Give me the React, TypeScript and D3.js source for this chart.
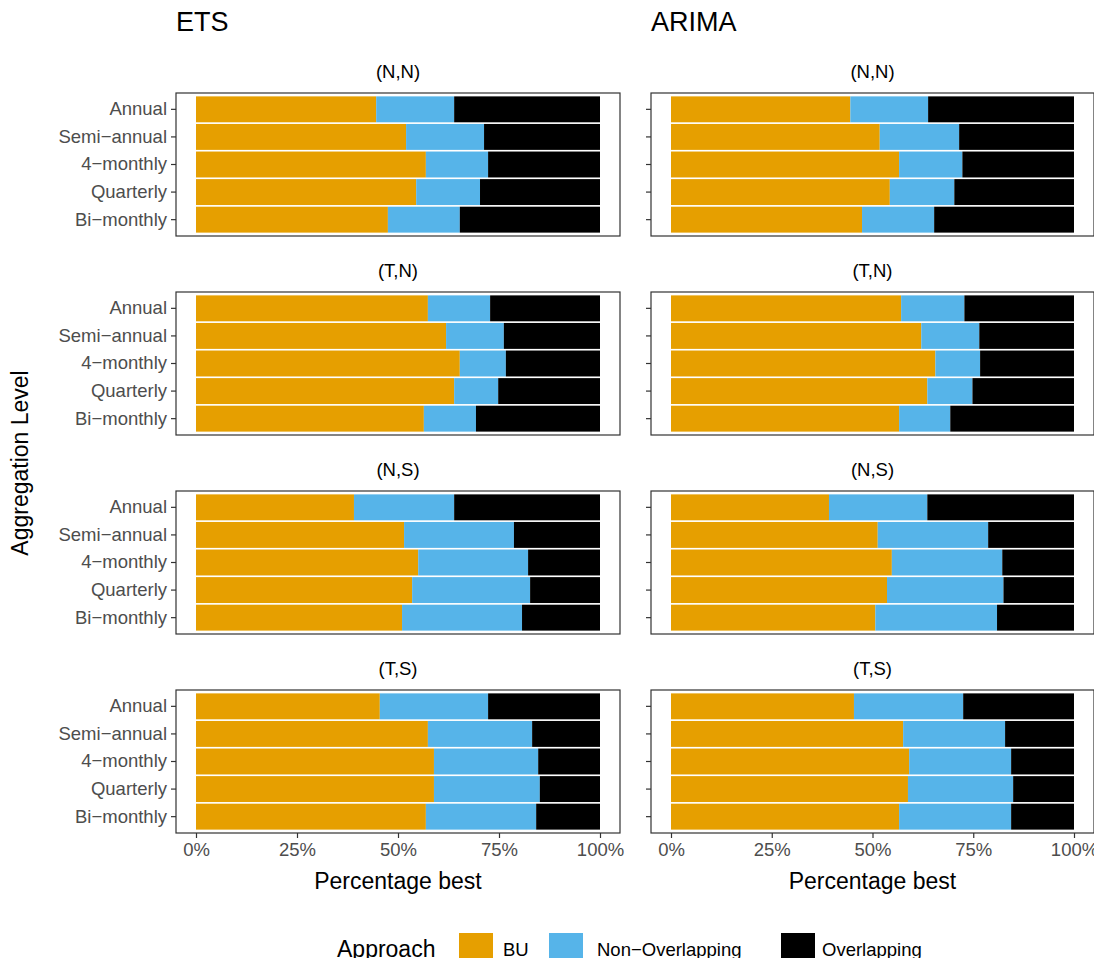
import { useEffect, useRef } from 'react';
import * as d3 from 'd3';

const levels = ['Annual', 'Semi\u2212annual', '4\u2212monthly', 'Quarterly', 'Bi\u2212monthly'];
const facets = ['(N,N)', '(T,N)', '(N,S)', '(T,S)'];
const approaches = ['BU', 'Non\u2212Overlapping', 'Overlapping'];
const colors = ['#E69F00', '#56B4E9', '#000000'];
const xTicks = [0, 0.25, 0.5, 0.75, 1];

// BU share and Non-Overlapping share (%), per facet, per level
const etsBU = [
  [44.6, 52.0, 56.9, 54.5, 47.5],
  [57.4, 61.9, 65.3, 63.9, 56.4],
  [39.1, 51.5, 55.0, 53.5, 51.0],
  [45.5, 57.4, 58.9, 58.9, 56.9],
];
const etsNO = [
  [19.3, 19.3, 15.4, 15.8, 17.8],
  [15.4, 14.3, 11.4, 10.9, 12.9],
  [24.8, 27.2, 27.2, 29.2, 29.7],
  [26.8, 25.8, 25.8, 26.2, 27.3],
];
const arimaBU = [
  [44.5, 51.8, 56.6, 54.3, 47.4],
  [57.1, 62.1, 65.6, 63.6, 56.6],
  [39.2, 51.3, 54.8, 53.6, 50.7],
  [45.4, 57.6, 59.1, 58.8, 56.6],
];
const arimaNO = [
  [19.3, 19.7, 15.7, 16.0, 17.9],
  [15.7, 14.4, 11.1, 11.2, 12.7],
  [24.4, 27.4, 27.4, 28.9, 30.2],
  [27.1, 25.3, 25.3, 26.1, 27.8],
];

export default function App() {
  const svgRef = useRef<SVGSVGElement>(null);

  useEffect(() => {
    if (!svgRef.current) return;
    const svg = d3.select(svgRef.current);
    svg.selectAll('*').remove();
    const font = 'Liberation Sans, Arial, sans-serif';
    const grey = '#4d4d4d';

    const cols = [
      { title: 'ETS', left: 176, right: 620, bu: etsBU, no: etsNO, labels: true },
      { title: 'ARIMA', left: 651, right: 1094, bu: arimaBU, no: arimaNO, labels: false },
    ];
    const tops = [93, 292, 491, 690];
    const ph = 143;

    cols.forEach((c) => {
      const x = d3.scaleLinear().domain([0, 1]).range([c.left + 20, c.right - 20]);
      svg.append('text').attr('x', c.left).attr('y', 24).attr('font-size', 27)
        .attr('font-family', font).text(c.title).attr('dominant-baseline', 'middle');

      tops.forEach((top, fi) => {
        const y = d3.scaleBand<string>().domain(levels).range([top + 2, top + ph - 2]).paddingInner(0.06).paddingOuter(0.05);
        svg.append('text').attr('x', (c.left + c.right) / 2).attr('y', top - 20)
          .attr('text-anchor', 'middle').attr('dominant-baseline', 'middle')
          .attr('font-size', 18.5).attr('font-family', font).text(facets[fi]);

        levels.forEach((lv, li) => {
          const bu = c.bu[fi][li] / 100;
          const no = c.no[fi][li] / 100;
          const segs = [[0, bu], [bu, bu + no], [bu + no, 1]];
          segs.forEach(([a, b], si) => {
            svg.append('rect').attr('x', x(a)).attr('width', x(b) - x(a))
              .attr('y', y(lv)!).attr('height', y.bandwidth()).attr('fill', colors[si]);
          });
        });

        svg.append('rect').attr('x', c.left).attr('y', top).attr('width', c.right - c.left)
          .attr('height', ph).attr('fill', 'none').attr('stroke', '#333').attr('stroke-width', 1.2);

        const ax = svg.append('g').attr('transform', `translate(${c.left},0)`)
          .call(d3.axisLeft(y).tickSize(5).tickPadding(4).tickFormat((d) => (c.labels ? d : '')));
        ax.select('.domain').remove();
        ax.selectAll('line').attr('stroke', '#333').attr('stroke-width', 1.2);
        ax.selectAll('text').attr('font-size', 18.5).attr('font-family', font).attr('fill', grey);
      });

      const bx = svg.append('g').attr('transform', `translate(0,${tops[3] + ph})`)
        .call(d3.axisBottom(x).tickValues(xTicks).tickSize(5).tickPadding(5).tickFormat(d3.format('.0%')));
      bx.select('.domain').remove();
      bx.selectAll('line').attr('stroke', '#333').attr('stroke-width', 1.2);
      bx.selectAll('text').attr('font-size', 18.5).attr('font-family', font).attr('fill', grey);

      svg.append('text').attr('x', (c.left + c.right) / 2).attr('y', 883)
        .attr('text-anchor', 'middle').attr('dominant-baseline', 'middle')
        .attr('font-size', 23).attr('font-family', font).text('Percentage best');
    });

    svg.append('text').attr('transform', 'translate(22,463) rotate(-90)')
      .attr('text-anchor', 'middle').attr('dominant-baseline', 'middle')
      .attr('font-size', 23).attr('font-family', font).text('Aggregation Level');

    const lg = svg.append('g');
    lg.append('text').attr('x', 337).attr('y', 951).attr('dominant-baseline', 'middle')
      .attr('font-size', 23).attr('font-family', font).text('Approach');
    const keyX = [459, 549, 781];
    const textX = [503, 597, 822];
    approaches.forEach((a, i) => {
      lg.append('rect').attr('x', keyX[i]).attr('y', 933).attr('width', 34).attr('height', 34).attr('fill', colors[i]);
      lg.append('text').attr('x', textX[i]).attr('y', 951).attr('dominant-baseline', 'middle')
        .attr('font-size', 18.5).attr('font-family', font).text(a);
    });
  }, []);

  return <svg ref={svgRef} width={1102} height={966} style={{ display: 'block', margin: -8 }} />;
}
